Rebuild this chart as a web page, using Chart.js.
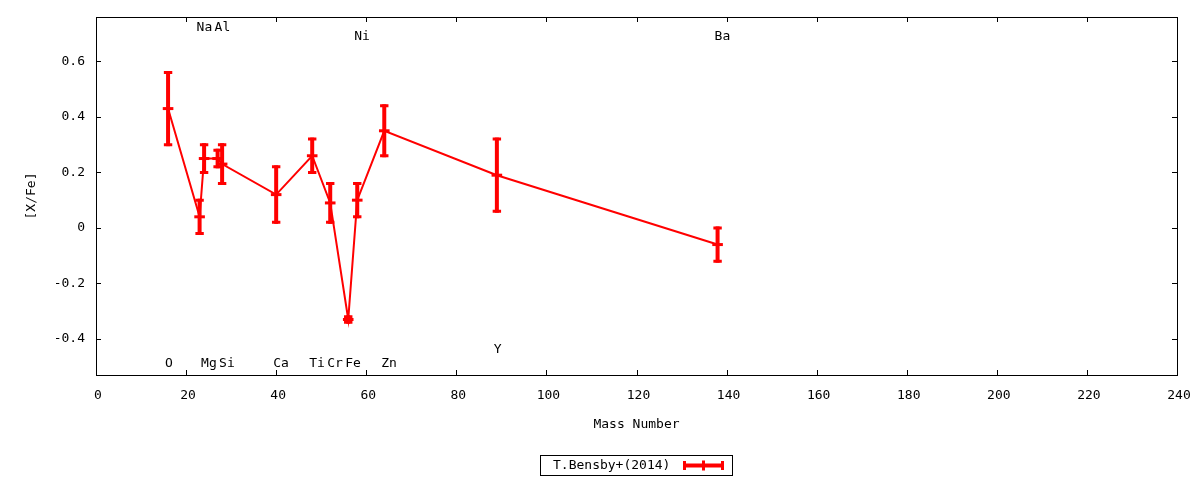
<!DOCTYPE html>
<html><head><meta charset="utf-8">
<script src="https://cdn.jsdelivr.net/npm/chart.js@4/dist/chart.umd.min.js"></script>
<style>html,body{margin:0;padding:0;background:#fff}#wrap{width:1200px;height:480px}</style>
</head><body><div id="wrap"><canvas id="c" width="1200" height="480"></canvas></div>
<script>
const elements    = ['O','Na','Mg','Al','Si','Ca','Ti','Cr','Fe','Ni','Zn','Y','Ba'];
const massNumbers = [16, 23, 24, 27, 28, 40, 48, 52, 56, 58, 64, 89, 138];
const xfeValues   = [0.43, 0.04, 0.25, 0.25, 0.23, 0.12, 0.26, 0.09, -0.33, 0.10, 0.35, 0.19, -0.06];
const xfeErrors   = [0.13, 0.06, 0.05, 0.03, 0.07, 0.10, 0.06, 0.07, 0.01, 0.06, 0.09, 0.13, 0.06];
const labelLevels = [-0.49, 0.72, -0.49, 0.72, -0.49, -0.49, -0.49, -0.49, -0.49, 0.69, -0.49, -0.44, 0.69];
const xTicks = [0, 20, 40, 60, 80, 100, 120, 140, 160, 180, 200, 220, 240];
const yTicks = [-0.4, -0.2, 0, 0.2, 0.4, 0.6];
const seriesName = 'T.Bensby+(2014)';

const FONT = 'DejaVu Sans Mono';
const RED = '#ff0000';

const points = massNumbers.map((m, i) => ({x: m, y: xfeValues[i]}));

const gnuplotPlugin = {
  id: 'gnuplotDecor',
  beforeDatasetsDraw(chart) {
    const {ctx} = chart;
    const xs = chart.scales.x, ys = chart.scales.y;
    ctx.save();
    ctx.strokeStyle = RED;
    ctx.lineCap = 'butt';
    massNumbers.forEach((m, i) => {
      const px = xs.getPixelForValue(m);
      const top = ys.getPixelForValue(xfeValues[i] + xfeErrors[i]);
      const bot = ys.getPixelForValue(xfeValues[i] - xfeErrors[i]);
      ctx.lineWidth = 4;
      ctx.beginPath(); ctx.moveTo(px, top - 1.5); ctx.lineTo(px, bot + 1.5); ctx.stroke();
      ctx.lineWidth = 3;
      ctx.beginPath();
      ctx.moveTo(px - 4.2, top); ctx.lineTo(px + 4.2, top);
      ctx.moveTo(px - 4.2, bot); ctx.lineTo(px + 4.2, bot);
      ctx.stroke();
    });
    ctx.restore();
  },
  afterDraw(chart) {
    const {ctx, chartArea: a} = chart;
    const xs = chart.scales.x, ys = chart.scales.y;
    ctx.save();
    // border
    ctx.strokeStyle = '#000';
    ctx.lineWidth = 1;
    ctx.strokeRect(Math.round(a.left) + 0.5, Math.round(a.top) + 0.5, Math.round(a.right - a.left), Math.round(a.bottom - a.top));
    // inward ticks on all sides
    const tl = 5;
    ctx.beginPath();
    xTicks.forEach(v => {
      const px = Math.round(xs.getPixelForValue(v)) + 0.5;
      ctx.moveTo(px, a.bottom); ctx.lineTo(px, a.bottom - tl);
      ctx.moveTo(px, a.top); ctx.lineTo(px, a.top + tl);
    });
    yTicks.forEach(v => {
      const py = Math.round(ys.getPixelForValue(v)) + 0.5;
      ctx.moveTo(a.left, py); ctx.lineTo(a.left + tl, py);
      ctx.moveTo(a.right, py); ctx.lineTo(a.right - tl, py);
    });
    ctx.stroke();
    // element labels
    ctx.fillStyle = '#000';
    ctx.font = '13px "' + FONT + '"';
    ctx.textAlign = 'left';
    ctx.textBaseline = 'middle';
    elements.forEach((e, i) => {
      ctx.fillText(e, xs.getPixelForValue(massNumbers[i]) - 3, ys.getPixelForValue(labelLevels[i]));
    });
    // legend
    const lx = 540, ly = 455, lw = 192, lh = 20;
    ctx.strokeStyle = '#000';
    ctx.lineWidth = 1;
    ctx.strokeRect(lx + 0.5, ly + 0.5, lw, lh);
    ctx.fillText(seriesName, 553, ly + lh / 2 + 1);
    const sy = ly + lh / 2 + 0.5;
    ctx.strokeStyle = RED;
    ctx.lineWidth = 4;
    ctx.beginPath(); ctx.moveTo(683, sy); ctx.lineTo(724, sy); ctx.stroke();
    ctx.lineWidth = 3;
    ctx.beginPath();
    ctx.moveTo(684.5, sy - 4.5); ctx.lineTo(684.5, sy + 4.5);
    ctx.moveTo(722.5, sy - 4.5); ctx.lineTo(722.5, sy + 4.5);
    ctx.moveTo(703.5, sy - 5); ctx.lineTo(703.5, sy + 5);
    ctx.stroke();
    ctx.restore();
  }
};

new Chart(document.getElementById('c'), {
  type: 'scatter',
  data: {
    datasets: [{
      label: seriesName,
      data: points,
      showLine: true,
      borderColor: RED,
      backgroundColor: RED,
      borderWidth: 2,
      pointStyle: 'line',
      pointRadius: 5.3,
      pointBorderWidth: 3,
      pointBorderColor: RED,
      pointHoverRadius: 5.3
    }]
  },
  options: {
    responsive: false,
    animation: false,
    devicePixelRatio: 1,
    layout: {padding: {left: 0, right: 23, top: 17, bottom: 0}},
    plugins: {legend: {display: false}, tooltip: {enabled: false}},
    scales: {
      x: {
        type: 'linear', min: 0, max: 240,
        grid: {display: false, drawTicks: false},
        border: {display: false},
        afterBuildTicks: s => { s.ticks = xTicks.map(v => ({value: v})); },
        afterFit: s => { s.height = 105; s.paddingLeft = 0; s.paddingRight = 0; },
        ticks: {padding: 13, labelOffset: 2, color: '#000', font: {family: FONT, size: 13}, maxRotation: 0, autoSkip: false, callback: v => String(v)},
        title: {display: true, text: 'Mass Number', color: '#000', font: {family: FONT, size: 13}, padding: {top: 0, bottom: 48}}
      },
      y: {
        type: 'linear', min: -0.53, max: 0.76,
        grid: {display: false, drawTicks: false},
        border: {display: false},
        afterBuildTicks: s => { s.ticks = yTicks.map(v => ({value: v})); },
        afterFit: s => { s.width = 96; s.paddingTop = 0; s.paddingBottom = 0; },
        ticks: {padding: 11, color: '#000', font: {family: FONT, size: 13}, autoSkip: false, callback: v => String(Math.round(v * 10) / 10)},
        title: {display: true, text: '[X/Fe]', color: '#000', font: {family: FONT, size: 13}, padding: {top: 24, bottom: 0}}
      }
    }
  },
  plugins: [gnuplotPlugin]
});
</script>
</body></html>
